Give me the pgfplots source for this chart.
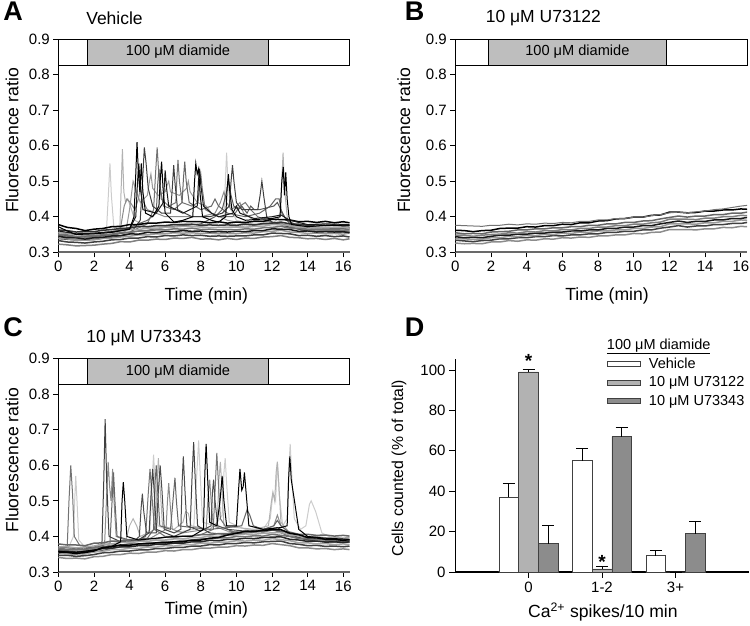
\documentclass[border=0pt]{standalone}
\usepackage{fontspec}
\setmainfont{Liberation Sans}
\usepackage{pgfplots}
\usepackage{pgfplotstable}
\pgfplotsset{compat=1.18}

\definecolor{bandgray}{RGB}{190,190,190}
\definecolor{barlight}{RGB}{178,178,178}
\definecolor{bardark}{RGB}{140,140,140}
\definecolor{axisgray}{RGB}{105,105,105}

% baseline traces, 0.5 min steps
\pgfplotstableread{
t a1 a2 a3 a4 a5 a6 a7 a8
0 0.323 0.333 0.339 0.345 0.351 0.356 0.363 0.378
0.5 0.321 0.329 0.338 0.341 0.349 0.354 0.361 0.370
1 0.318 0.328 0.334 0.341 0.344 0.353 0.357 0.367
1.5 0.319 0.326 0.334 0.337 0.346 0.349 0.358 0.361
2 0.320 0.329 0.335 0.341 0.346 0.353 0.358 0.365
2.5 0.323 0.331 0.339 0.342 0.350 0.355 0.362 0.367
3 0.325 0.335 0.340 0.346 0.351 0.359 0.364 0.372
3.5 0.330 0.336 0.343 0.347 0.355 0.360 0.367 0.373
4 0.329 0.340 0.345 0.352 0.356 0.364 0.368 0.378
4.5 0.334 0.340 0.349 0.351 0.360 0.364 0.373 0.378
5 0.334 0.344 0.349 0.356 0.360 0.368 0.372 0.382
5.5 0.337 0.343 0.352 0.355 0.363 0.367 0.375 0.382
6 0.336 0.347 0.352 0.359 0.363 0.371 0.375 0.385
6.5 0.340 0.346 0.355 0.358 0.366 0.371 0.378 0.384
7 0.339 0.349 0.354 0.361 0.365 0.373 0.378 0.387
7.5 0.342 0.347 0.355 0.359 0.368 0.372 0.379 0.386
8 0.337 0.348 0.353 0.360 0.364 0.372 0.376 0.386
8.5 0.338 0.345 0.354 0.357 0.365 0.369 0.377 0.383
9 0.335 0.346 0.352 0.358 0.363 0.370 0.376 0.386
9.5 0.339 0.345 0.353 0.357 0.364 0.370 0.377 0.382
10 0.336 0.346 0.352 0.359 0.363 0.371 0.376 0.385
10.5 0.340 0.346 0.355 0.358 0.366 0.370 0.379 0.384
11 0.339 0.349 0.354 0.361 0.365 0.373 0.377 0.387
11.5 0.343 0.349 0.358 0.361 0.369 0.373 0.381 0.387
12 0.344 0.354 0.359 0.366 0.370 0.378 0.382 0.393
12.5 0.347 0.353 0.362 0.365 0.373 0.377 0.385 0.392
13 0.342 0.352 0.357 0.364 0.368 0.376 0.380 0.391
13.5 0.341 0.347 0.356 0.359 0.367 0.371 0.379 0.386
14 0.338 0.348 0.353 0.360 0.364 0.372 0.376 0.387
14.5 0.339 0.345 0.354 0.357 0.365 0.369 0.377 0.384
15 0.336 0.347 0.352 0.358 0.363 0.371 0.376 0.387
15.5 0.339 0.344 0.353 0.357 0.364 0.370 0.377 0.383
16 0.335 0.346 0.351 0.358 0.362 0.370 0.375 0.386
16.35 0.338 0.343 0.354 0.355 0.365 0.368 0.376 0.383
}\tabA

\pgfplotstableread{
t b1 b2 b3 b4 b5 b6 b7 b8
0 0.326 0.334 0.338 0.344 0.348 0.355 0.362 0.376
0.5 0.324 0.332 0.338 0.341 0.348 0.352 0.361 0.375
1 0.325 0.330 0.336 0.342 0.345 0.353 0.358 0.374
1.5 0.324 0.333 0.337 0.341 0.348 0.352 0.361 0.373
2 0.329 0.334 0.341 0.345 0.350 0.357 0.362 0.376
2.5 0.329 0.338 0.341 0.348 0.351 0.358 0.367 0.376
3 0.333 0.338 0.345 0.348 0.355 0.359 0.368 0.379
3.5 0.331 0.341 0.344 0.351 0.354 0.363 0.368 0.377
4 0.335 0.341 0.348 0.351 0.358 0.363 0.372 0.380
4.5 0.334 0.344 0.347 0.354 0.357 0.366 0.371 0.379
5 0.338 0.344 0.351 0.354 0.361 0.366 0.375 0.382
5.5 0.337 0.347 0.350 0.357 0.360 0.369 0.375 0.381
6 0.341 0.346 0.354 0.357 0.364 0.369 0.379 0.384
6.5 0.340 0.349 0.353 0.360 0.363 0.372 0.378 0.383
7 0.343 0.349 0.357 0.360 0.367 0.372 0.383 0.387
7.5 0.342 0.352 0.356 0.363 0.367 0.376 0.383 0.387
8 0.346 0.352 0.360 0.363 0.371 0.376 0.388 0.391
8.5 0.346 0.356 0.360 0.367 0.371 0.380 0.389 0.391
9 0.349 0.356 0.363 0.367 0.375 0.380 0.394 0.395
9.5 0.349 0.359 0.363 0.371 0.375 0.384 0.395 0.395
10 0.353 0.359 0.367 0.371 0.379 0.384 0.399 0.399
10.5 0.352 0.363 0.367 0.375 0.379 0.388 0.399 0.399
11 0.356 0.363 0.371 0.375 0.383 0.389 0.404 0.403
11.5 0.357 0.368 0.372 0.380 0.385 0.394 0.405 0.406
12 0.364 0.371 0.380 0.384 0.393 0.398 0.413 0.411
12.5 0.364 0.375 0.380 0.388 0.393 0.402 0.413 0.413
13 0.364 0.371 0.380 0.384 0.393 0.399 0.411 0.411
13.5 0.363 0.374 0.379 0.387 0.392 0.402 0.412 0.414
14 0.366 0.374 0.383 0.387 0.396 0.402 0.416 0.416
14.5 0.366 0.378 0.383 0.391 0.396 0.406 0.416 0.420
15 0.370 0.378 0.387 0.391 0.400 0.406 0.419 0.422
15.5 0.369 0.381 0.387 0.395 0.400 0.410 0.419 0.426
16 0.373 0.381 0.391 0.395 0.404 0.410 0.422 0.430
16.35 0.372 0.384 0.390 0.398 0.403 0.413 0.421 0.432
}\tabB

\pgfplotstableread{
t c1 c2 c3 c4 c5 c6 c7 c8
0 0.341 0.347 0.355 0.359 0.367 0.371 0.379 0.356
0.5 0.338 0.347 0.351 0.359 0.363 0.371 0.376 0.355
1 0.339 0.344 0.352 0.356 0.364 0.368 0.376 0.352
1.5 0.337 0.346 0.350 0.358 0.362 0.370 0.374 0.355
2 0.343 0.349 0.357 0.361 0.369 0.373 0.381 0.359
2.5 0.344 0.354 0.358 0.366 0.370 0.378 0.382 0.369
3 0.349 0.355 0.363 0.367 0.375 0.379 0.387 0.371
3.5 0.349 0.359 0.363 0.371 0.375 0.383 0.387 0.376
4 0.353 0.359 0.367 0.371 0.379 0.383 0.391 0.375
4.5 0.352 0.362 0.366 0.374 0.378 0.386 0.390 0.379
5 0.356 0.362 0.370 0.374 0.382 0.386 0.394 0.379
5.5 0.356 0.366 0.370 0.378 0.382 0.390 0.394 0.382
6 0.360 0.366 0.374 0.378 0.386 0.390 0.398 0.382
6.5 0.359 0.369 0.373 0.381 0.385 0.393 0.397 0.385
7 0.363 0.369 0.377 0.381 0.389 0.393 0.401 0.385
7.5 0.363 0.373 0.377 0.385 0.389 0.397 0.401 0.390
8 0.367 0.373 0.381 0.385 0.393 0.397 0.405 0.390
8.5 0.367 0.377 0.381 0.389 0.393 0.401 0.405 0.395
9 0.370 0.376 0.384 0.388 0.396 0.400 0.408 0.397
9.5 0.370 0.380 0.384 0.392 0.396 0.404 0.408 0.404
10 0.374 0.380 0.388 0.392 0.400 0.404 0.412 0.409
10.5 0.373 0.383 0.387 0.395 0.399 0.407 0.411 0.415
11 0.376 0.382 0.390 0.394 0.402 0.406 0.414 0.414
11.5 0.375 0.385 0.389 0.397 0.401 0.409 0.413 0.417
12 0.380 0.386 0.394 0.398 0.406 0.410 0.418 0.419
12.5 0.377 0.387 0.391 0.399 0.403 0.411 0.415 0.419
13 0.374 0.380 0.388 0.392 0.400 0.404 0.412 0.409
13.5 0.368 0.378 0.382 0.390 0.394 0.402 0.406 0.405
14 0.368 0.374 0.382 0.386 0.394 0.398 0.406 0.397
14.5 0.365 0.375 0.379 0.387 0.391 0.399 0.403 0.396
15 0.366 0.372 0.380 0.384 0.392 0.396 0.404 0.392
15.5 0.363 0.373 0.377 0.385 0.389 0.397 0.401 0.392
16 0.365 0.371 0.379 0.383 0.391 0.395 0.403 0.389
16.35 0.363 0.373 0.377 0.385 0.389 0.397 0.401 0.391
}\tabC

\newcommand{\ts}{\fontsize{15}{18}\selectfont}
\newcommand{\ls}{\fontsize{17.6}{20}\selectfont}

\pgfplotsset{
  tr/.style={line width=1pt},
  bl/.style={line width=1.5pt},
  common/.style={
    scale only axis, height=213.3pt,
    axis lines=left, axis line style={-},
    tick align=outside, major tick length=5pt,
    tick style={black, line width=0.8pt},
    ticklabel style={font=\ts},
    label style={font=\ls},
    /pgf/number format/assume math mode=true,
    clip=false,
  },
  tracepanel/.style={
    common,
    xmin=0, xmax=16.35, ymin=0.3, ymax=0.9,
    x axis line style={axisgray, line width=1.6pt},
    y axis line style={black, line width=0.8pt},
    xtick={0,2,4,6,8,10,12,14,16},
    ytick={0.3,0.4,0.5,0.6,0.7,0.8,0.9},
    yticklabel style={/pgf/number format/.cd, fixed, fixed zerofill, precision=1},
    xlabel={Time (min)}, ylabel={Fluorescence ratio},
    title style={font=\fontsize{17.5}{20}\selectfont, anchor=west},
  },
  barstyle/.style={draw=black!75, line width=0.7pt,
    error bars/y dir=plus, error bars/y explicit,
    error bars/error bar style={black, line width=0.8pt},
    error bars/error mark options={rotate=90, mark size=6pt, line width=0.8pt, black}},
}

\newcommand{\band}[2]{%
  \draw[black, line width=0.8pt, fill=white] (axis cs:0,0.827) rectangle (axis cs:16.35,0.9);
  \draw[black, line width=0.8pt, fill=bandgray] (axis cs:#1,0.827) rectangle (axis cs:#2,0.9);
  \node[font=\fontsize{14.6}{16}\selectfont] at (axis cs:{(#1+#2)/2},0.8635) {100 μM diamide};}

\begin{document}
\begin{tikzpicture}
\useasboundingbox (0pt,0pt) rectangle (750pt,626pt);

% ---------------- A
\begin{axis}[tracepanel, at={(58.3pt,373.7pt)}, anchor=south west, width=291.2pt,
  title={Vehicle}, title style={at={(axis description cs:0.084,1.069)}},
  xlabel style={at={(axis description cs:0.508,-0.203)}, anchor=center},
  ylabel style={at={(axis description cs:-0.159,0.524)}, anchor=center}]
\addplot[tr,black!20] coordinates {(0,0.352)(1,0.346)(2,0.348)(2.7,0.357)(2.82,0.47)(2.9,0.55)(2.98,0.46)(3.12,0.37)(4,0.368)(5,0.372)(6,0.375)(7,0.38)(8,0.378)(9,0.382)(9.3,0.40)(9.38,0.50)(9.45,0.58)(9.53,0.49)(9.7,0.42)(10,0.39)(11,0.378)(12,0.38)(13,0.376)(14,0.372)(15,0.37)(16.35,0.368)};
\addplot[tr,black!30] coordinates {(0,0.344)(1,0.338)(2,0.341)(3,0.347)(3.45,0.36)(3.53,0.48)(3.6,0.59)(3.68,0.47)(3.78,0.44)(3.9,0.45)(4.05,0.43)(4.3,0.39)(5,0.37)(6,0.372)(7,0.376)(8,0.37)(9,0.37)(10,0.372)(11,0.375)(12,0.38)(12.45,0.40)(12.55,0.50)(12.62,0.58)(12.7,0.48)(12.85,0.40)(13,0.378)(14,0.368)(15,0.366)(16.35,0.366)};
\addplot[tr,black!40] coordinates {(0,0.34)(1,0.336)(2,0.338)(3,0.344)(3.8,0.36)(4.0,0.42)(4.2,0.50)(4.4,0.47)(4.6,0.44)(5.0,0.46)(5.12,0.50)(5.2,0.52)(5.3,0.48)(5.6,0.46)(6.0,0.47)(6.12,0.49)(6.2,0.50)(6.3,0.47)(6.8,0.46)(7.2,0.48)(7.3,0.50)(7.4,0.47)(7.8,0.44)(8.3,0.43)(8.6,0.41)(9.5,0.39)(10.5,0.38)(11.5,0.378)(12.5,0.382)(13.5,0.365)(15,0.362)(16.35,0.36)};
\addplot[tr,black!45] coordinates {(0,0.346)(1,0.34)(2,0.342)(3,0.35)(3.5,0.37)(3.7,0.43)(3.85,0.45)(4.05,0.44)(4.3,0.42)(4.5,0.45)(4.6,0.48)(4.7,0.45)(5,0.42)(6,0.40)(7,0.40)(8,0.40)(8.8,0.41)(9.1,0.44)(9.3,0.47)(9.45,0.44)(9.7,0.42)(10.0,0.43)(10.2,0.44)(10.4,0.41)(11,0.39)(12,0.385)(13,0.37)(14,0.36)(15,0.36)(16.35,0.358)};
\addplot[tr,black!55] coordinates {(0,0.348)(1,0.342)(2,0.344)(3,0.35)(4,0.357)(5,0.38)(5.35,0.42)(5.47,0.53)(5.55,0.595)(5.63,0.53)(5.78,0.45)(6.2,0.43)(6.6,0.44)(6.66,0.51)(6.72,0.56)(6.8,0.50)(6.95,0.44)(7.5,0.43)(7.85,0.44)(7.92,0.49)(8.0,0.52)(8.08,0.48)(8.25,0.42)(9,0.40)(9.8,0.40)(10.2,0.43)(10.5,0.44)(10.8,0.42)(11.2,0.40)(12,0.385)(13,0.375)(14,0.365)(15,0.362)(16.35,0.36)};
\addplot[tr,black!60] coordinates {(0,0.356)(1,0.35)(2,0.352)(3,0.357)(4,0.37)(5,0.39)(5.5,0.41)(5.58,0.49)(5.65,0.535)(5.73,0.48)(5.9,0.43)(6.5,0.42)(6.95,0.44)(7.03,0.51)(7.1,0.555)(7.18,0.50)(7.35,0.44)(8,0.42)(8.6,0.43)(8.8,0.45)(9.0,0.43)(9.5,0.41)(10.5,0.40)(11.3,0.41)(11.9,0.43)(12.2,0.45)(12.4,0.45)(12.55,0.41)(13,0.38)(14,0.37)(15,0.368)(16.35,0.366)};
\addplot[tr,black!65] coordinates {(0,0.35)(1,0.344)(2,0.346)(3,0.35)(4,0.356)(5,0.362)(6,0.37)(7,0.375)(8,0.38)(8.8,0.40)(9.2,0.42)(9.4,0.46)(9.55,0.50)(9.7,0.46)(9.85,0.43)(10.1,0.42)(10.3,0.43)(10.6,0.41)(10.8,0.43)(11.0,0.42)(11.3,0.42)(11.7,0.425)(12.1,0.43)(12.3,0.44)(12.5,0.42)(12.8,0.39)(13.5,0.375)(15,0.37)(16.35,0.37)};
\addplot[tr,black!75] coordinates {(0,0.338)(1,0.334)(2,0.336)(3,0.342)(4,0.35)(4.6,0.39)(4.73,0.50)(4.83,0.595)(4.93,0.55)(5.05,0.48)(5.3,0.43)(5.8,0.41)(6.3,0.41)(6.4,0.48)(6.48,0.545)(6.56,0.49)(6.7,0.42)(7.5,0.40)(8.5,0.40)(9.2,0.41)(9.6,0.43)(9.7,0.50)(9.78,0.545)(9.86,0.50)(10,0.44)(10.3,0.42)(10.7,0.42)(11.2,0.42)(11.33,0.46)(11.43,0.50)(11.53,0.46)(11.7,0.40)(12,0.385)(13,0.37)(14,0.36)(15,0.358)(16.35,0.356)};
\addplot[bl,black!50] table[x=t,y=a1]{\tabA};
\addplot[bl,black!75] table[x=t,y=a2]{\tabA};
\addplot[bl,black!40] table[x=t,y=a3]{\tabA};
\addplot[bl,black!90] table[x=t,y=a4]{\tabA};
\addplot[bl,black!55] table[x=t,y=a5]{\tabA};
\addplot[bl,black!35] table[x=t,y=a6]{\tabA};
\addplot[bl,black!80] table[x=t,y=a7]{\tabA};
\addplot[bl,black] table[x=t,y=a8]{\tabA};
\addplot[tr,black!90] coordinates {(0,0.36)(1,0.352)(2,0.354)(3,0.358)(4,0.365)(4.35,0.40)(4.45,0.50)(4.52,0.55)(4.6,0.49)(4.75,0.42)(5.5,0.41)(5.9,0.44)(6.0,0.53)(6.08,0.48)(6.2,0.43)(7,0.41)(7.8,0.43)(7.87,0.50)(7.93,0.535)(8.0,0.49)(8.15,0.43)(8.6,0.41)(9,0.40)(9.8,0.41)(10.0,0.43)(10.2,0.41)(11,0.395)(12,0.40)(12.5,0.405)(13,0.39)(14,0.378)(15,0.38)(16.35,0.378)};
\addplot[tr,black] coordinates {(0,0.372)(0.5,0.36)(1,0.35)(2,0.352)(3,0.356)(4,0.365)(4.25,0.40)(4.35,0.52)(4.42,0.61)(4.5,0.52)(4.58,0.47)(4.66,0.55)(4.75,0.47)(4.9,0.41)(5.3,0.40)(5.65,0.43)(5.72,0.50)(5.8,0.555)(5.88,0.48)(6.0,0.41)(6.5,0.385)(7,0.39)(7.55,0.40)(7.65,0.50)(7.72,0.55)(7.8,0.52)(7.88,0.535)(7.97,0.46)(8.1,0.40)(8.6,0.39)(9,0.385)(9.4,0.40)(9.48,0.48)(9.55,0.52)(9.63,0.47)(9.75,0.42)(10,0.40)(10.5,0.39)(11,0.392)(12,0.395)(12.45,0.40)(12.55,0.50)(12.63,0.54)(12.7,0.46)(12.77,0.525)(12.85,0.45)(12.95,0.40)(13.1,0.378)(14,0.372)(15,0.376)(16.35,0.374)};
\band{1.63}{11.81}
\end{axis}

% ---------------- B
\begin{axis}[tracepanel, at={(455.3pt,373.7pt)}, anchor=south west, width=291.8pt,
  title={10 μM U73122}, title style={at={(axis description cs:0.0925,1.069)}},
  xlabel style={at={(axis description cs:0.52,-0.203)}, anchor=center},
  ylabel style={at={(axis description cs:-0.176,0.524)}, anchor=center}]
\addplot[bl,black!45] table[x=t,y=b1]{\tabB};
\addplot[bl,black!75] table[x=t,y=b2]{\tabB};
\addplot[bl,black!40] table[x=t,y=b3]{\tabB};
\addplot[bl,black!90] table[x=t,y=b4]{\tabB};
\addplot[bl,black!50] table[x=t,y=b5]{\tabB};
\addplot[bl,black!60] table[x=t,y=b6]{\tabB};
\addplot[bl,black] table[x=t,y=b7]{\tabB};
\addplot[tr,black!55] table[x=t,y=b8]{\tabB};
\band{1.83}{11.85}
\end{axis}

% ---------------- C
\begin{axis}[tracepanel, at={(58.3pt,54pt)}, anchor=south west, width=291.2pt,
  title={10 μM U73343}, title style={at={(axis description cs:0.084,1.07)}},
  xlabel style={at={(axis description cs:0.508,-0.177)}, anchor=center},
  ylabel style={at={(axis description cs:-0.159,0.524)}, anchor=center}]
\addplot[tr,black!20] coordinates {(0,0.355)(0.5,0.36)(0.85,0.40)(0.92,0.50)(0.98,0.57)(1.05,0.50)(1.15,0.39)(1.5,0.37)(2.5,0.37)(3.5,0.376)(4.5,0.385)(5.15,0.42)(5.27,0.56)(5.35,0.63)(5.43,0.55)(5.6,0.43)(6.5,0.41)(7.6,0.42)(7.78,0.58)(7.88,0.67)(7.96,0.58)(8.1,0.44)(8.8,0.43)(9.2,0.46)(9.3,0.58)(9.37,0.62)(9.45,0.55)(9.6,0.44)(10.5,0.42)(11.5,0.42)(11.9,0.45)(12.05,0.52)(12.2,0.50)(12.3,0.61)(12.4,0.52)(12.6,0.43)(12.85,0.45)(12.95,0.60)(13.02,0.66)(13.1,0.58)(13.25,0.45)(13.6,0.42)(13.9,0.43)(14.1,0.49)(14.2,0.50)(14.45,0.47)(14.8,0.41)(15.5,0.392)(16.35,0.39)};
\addplot[tr,black!30] coordinates {(0,0.365)(1,0.36)(2,0.366)(3,0.375)(3.8,0.39)(4.0,0.43)(4.2,0.45)(4.4,0.43)(4.6,0.40)(5.45,0.42)(5.55,0.56)(5.62,0.62)(5.7,0.55)(5.85,0.43)(6.5,0.42)(7.0,0.44)(7.15,0.47)(7.3,0.465)(7.45,0.43)(8.5,0.42)(8.92,0.44)(9.02,0.56)(9.1,0.61)(9.18,0.54)(9.3,0.43)(10,0.425)(11,0.42)(11.8,0.43)(11.97,0.50)(12.05,0.525)(12.15,0.50)(12.23,0.58)(12.3,0.61)(12.38,0.55)(12.5,0.44)(13,0.41)(14,0.395)(15,0.39)(16.35,0.388)};
\addplot[tr,black!45] coordinates {(0,0.36)(1,0.356)(2,0.364)(2.6,0.38)(2.72,0.52)(2.8,0.61)(2.88,0.54)(2.96,0.50)(3.05,0.59)(3.13,0.50)(3.25,0.40)(4,0.385)(5,0.39)(6.05,0.42)(6.13,0.50)(6.2,0.55)(6.28,0.49)(6.4,0.42)(7,0.41)(8.3,0.42)(8.42,0.52)(8.5,0.56)(8.58,0.50)(8.7,0.43)(9.5,0.415)(10.5,0.41)(11.5,0.415)(12.1,0.43)(12.3,0.46)(12.5,0.43)(13,0.41)(14,0.395)(15,0.39)(16.35,0.388)};
\addplot[tr,black!55] coordinates {(0,0.362)(0.5,0.37)(0.6,0.50)(0.7,0.60)(0.8,0.52)(0.9,0.40)(1.2,0.375)(2,0.368)(3,0.372)(4,0.378)(4.9,0.40)(5.05,0.52)(5.15,0.59)(5.25,0.52)(5.4,0.42)(6,0.40)(7,0.40)(8,0.405)(8.7,0.42)(8.82,0.55)(8.9,0.635)(8.98,0.56)(9.1,0.45)(9.5,0.42)(10,0.41)(11,0.415)(12,0.42)(13,0.40)(14,0.392)(15,0.39)(16.35,0.388)};
\addplot[tr,black!60] coordinates {(0,0.364)(1,0.362)(2,0.368)(2.9,0.38)(3.02,0.50)(3.1,0.58)(3.18,0.50)(3.3,0.40)(4,0.39)(5,0.395)(5.35,0.42)(5.43,0.55)(5.5,0.60)(5.58,0.53)(5.7,0.43)(6.3,0.42)(6.47,0.52)(6.55,0.565)(6.63,0.50)(6.75,0.43)(7.5,0.425)(8.5,0.42)(9.5,0.425)(10.3,0.43)(10.5,0.46)(10.6,0.475)(10.75,0.46)(10.95,0.43)(11.5,0.42)(12.1,0.43)(12.3,0.445)(12.5,0.43)(13,0.41)(14,0.395)(15,0.39)(16.35,0.39)};
\addplot[tr,black!70] coordinates {(0,0.352)(1,0.35)(2,0.356)(3,0.366)(4,0.375)(4.55,0.40)(4.65,0.48)(4.72,0.52)(4.8,0.47)(4.95,0.41)(5.5,0.41)(5.62,0.53)(5.72,0.60)(5.82,0.53)(5.95,0.42)(6.5,0.41)(6.88,0.42)(6.95,0.55)(7.02,0.625)(7.1,0.54)(7.22,0.43)(8,0.415)(8.58,0.43)(8.65,0.52)(8.72,0.56)(8.8,0.50)(8.95,0.43)(9.5,0.42)(10.5,0.415)(11.5,0.418)(12.3,0.425)(13,0.405)(14,0.39)(15,0.385)(16.35,0.384)};
\addplot[tr,black!75] coordinates {(0,0.37)(1,0.366)(2,0.37)(2.45,0.38)(2.55,0.55)(2.63,0.73)(2.72,0.55)(2.85,0.40)(3.5,0.385)(4.5,0.39)(5.1,0.41)(5.22,0.53)(5.3,0.59)(5.38,0.53)(5.5,0.42)(6.5,0.40)(7.4,0.42)(7.52,0.58)(7.6,0.665)(7.68,0.57)(7.82,0.43)(8.5,0.41)(9.5,0.405)(10.5,0.41)(11.5,0.415)(12.2,0.42)(13,0.40)(14,0.39)(15,0.385)(16.35,0.385)};
\addplot[bl,black!45] table[x=t,y=c1]{\tabC};
\addplot[bl,black!75] table[x=t,y=c2]{\tabC};
\addplot[bl,black!35] table[x=t,y=c3]{\tabC};
\addplot[bl,black!85] table[x=t,y=c4]{\tabC};
\addplot[bl,black!55] table[x=t,y=c5]{\tabC};
\addplot[bl,black!35] table[x=t,y=c6]{\tabC};
\addplot[bl,black!60] table[x=t,y=c7]{\tabC};
\addplot[bl,black] table[x=t,y=c8]{\tabC};
\addplot[tr,black] coordinates {(0,0.358)(1,0.355)(2,0.362)(3,0.372)(3.5,0.385)(3.58,0.50)(3.65,0.553)(3.73,0.50)(3.85,0.40)(4.5,0.39)(5.5,0.395)(6.5,0.40)(7.5,0.40)(8.15,0.42)(8.23,0.58)(8.3,0.66)(8.38,0.57)(8.5,0.44)(8.9,0.43)(9.08,0.50)(9.2,0.57)(9.3,0.50)(9.45,0.43)(10.0,0.43)(10.12,0.53)(10.2,0.59)(10.3,0.53)(10.38,0.54)(10.45,0.58)(10.55,0.52)(10.7,0.43)(11.5,0.42)(12.5,0.425)(12.85,0.43)(12.93,0.56)(13.0,0.625)(13.08,0.56)(13.2,0.52)(13.35,0.47)(13.5,0.42)(14,0.40)(15,0.395)(16.35,0.392)};
\band{1.63}{11.81}
\end{axis}

% ---------------- D
\begin{axis}[common, at={(455pt,54pt)}, anchor=south west, width=294pt, height=213pt,
  xmin=-1, xmax=3, ymin=0, ymax=105.4,
  ybar=0pt, bar width=19.7pt,
  major tick length=6pt,
  x axis line style={black, line width=1.4pt},
  y axis line style={black, line width=0.8pt},
  xtick={0,1,2}, xticklabels={0,1-2,3+},
  ytick={0,20,40,60,80,100},
  xlabel={Ca\textsuperscript{2+} spikes/10 min},
  ylabel={Cells counted (\% of total)},
  ylabel style={font=\fontsize{15.8}{18}\selectfont},
  xlabel style={at={(axis description cs:0.503,-0.188)}, anchor=center},
  ylabel style={at={(axis description cs:-0.19,0.488)}, anchor=center},
  legend style={at={(axis description cs:0.507,1.11)}, anchor=north west, draw=none, fill=none,
    font=\fontsize{14.5}{16}\selectfont, row sep=5pt, nodes={inner sep=1pt},
    /tikz/every odd column/.append style={column sep=7pt}},
  legend cell align=left,
  ]
\addlegendimage{empty legend}
\addlegendentry{\hspace{-42pt}\underline{100 μM diamide}}
\addplot[barstyle, fill=white,
  legend image code/.code={\draw[draw=black!75, fill=white, line width=0.7pt] (0pt,-2.5pt) rectangle (33pt,2.5pt);}]
  coordinates {(0,37) +- (0,7) (1,55) +- (0,6) (2,8) +- (0,2.5)};
\addlegendentry{Vehicle}
\addplot[barstyle, fill=barlight,
  legend image code/.code={\draw[draw=black!75, fill=barlight, line width=0.7pt] (0pt,-2.5pt) rectangle (33pt,2.5pt);}]
  coordinates {(0,99) +- (0,1.2) (1,1.5) +- (0,1.2) (2,0) +- (0,0)};
\addlegendentry{10 μM U73122}
\addplot[barstyle, fill=bardark,
  legend image code/.code={\draw[draw=black!75, fill=bardark, line width=0.7pt] (0pt,-2.5pt) rectangle (33pt,2.5pt);}]
  coordinates {(0,14) +- (0,9) (1,67) +- (0,4.5) (2,19) +- (0,6)};
\addlegendentry{10 μM U73343}
\node[font=\bfseries\fontsize{19}{19}\selectfont] at (axis cs:0,104.6) {*};
\node[font=\bfseries\fontsize{19}{19}\selectfont] at (axis cs:1,5.2) {*};
\end{axis}

\node[font=\bfseries\fontsize{27}{27}\selectfont] at (13pt,615pt) {A};
\node[font=\bfseries\fontsize{27}{27}\selectfont] at (414.7pt,615pt) {B};
\node[font=\bfseries\fontsize{27}{27}\selectfont] at (13pt,299pt) {C};
\node[font=\bfseries\fontsize{27}{27}\selectfont] at (414.7pt,299pt) {D};
\end{tikzpicture}
\end{document}
